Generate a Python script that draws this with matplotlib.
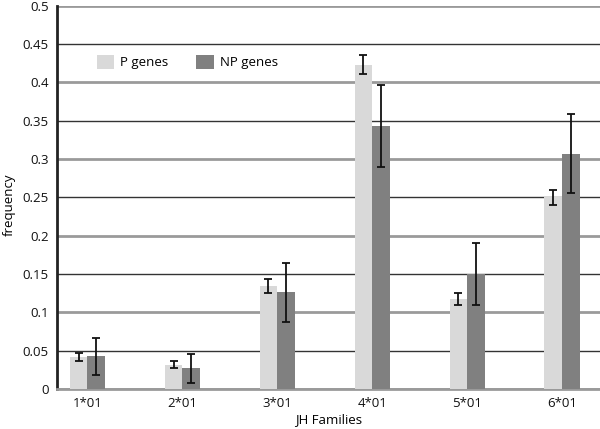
import matplotlib
matplotlib.use("Agg")
import matplotlib.pyplot as plt
import numpy as np

plt.rcParams["font.family"] = ["Open Sans", "DejaVu Sans"]

families = ["1*01", "2*01", "3*01", "4*01", "5*01", "6*01"]
p_genes = [0.042, 0.032, 0.134, 0.423, 0.117, 0.250]
p_err = [0.005, 0.004, 0.009, 0.012, 0.008, 0.010]
np_genes = [0.043, 0.027, 0.126, 0.343, 0.150, 0.307]
np_err = [0.024, 0.019, 0.038, 0.053, 0.040, 0.051]

fig = plt.figure(figsize=(6, 4.29), dpi=100)
ax = fig.add_axes([0.095, 0.093, 0.905, 0.894])

x = np.arange(len(families))
w = 0.185
err_kw = dict(ecolor="#111111", elinewidth=1.3, capsize=3, capthick=1.3)
ax.bar(x - w / 2, p_genes, w, yerr=p_err, color="#d9d9d9", label="P genes", error_kw=err_kw, zorder=3)
ax.bar(x + w / 2, np_genes, w, yerr=np_err, color="#808080", label="NP genes", error_kw=err_kw, zorder=3)

ax.set_xlim(-0.32, 5.4)
ax.set_ylim(0, 0.5)
ax.set_yticks(np.arange(0, 0.501, 0.05))
ax.set_yticklabels(["0", "0.05", "0.1", "0.15", "0.2", "0.25", "0.3", "0.35", "0.4", "0.45", "0.5"])
ax.set_xticks(x)
ax.set_xticklabels(families)
ax.tick_params(length=0, labelsize=9.5, colors="#111111")
ax.tick_params(axis="x", pad=6)
ax.tick_params(axis="y", pad=6)

ax.grid(axis="y", zorder=0)
for i, line in enumerate(ax.yaxis.get_gridlines()):
    if i % 2 == 0:
        line.set_color("#9a9a9a")
        line.set_linewidth(2)
    else:
        line.set_color("#333333")
        line.set_linewidth(1)
ax.set_axisbelow(True)

for s in ["top", "right"]:
    ax.spines[s].set_visible(False)
ax.spines["left"].set_color("#222222")
ax.spines["left"].set_linewidth(2)
ax.spines["bottom"].set_color("#9a9a9a")
ax.spines["bottom"].set_linewidth(2)

ax.set_xlabel("JH Families", fontsize=9.5, labelpad=2)
ax.set_ylabel("frequency", fontsize=9.5, va="center")
ax.yaxis.set_label_coords(-0.088, 0.48)

ax.legend(loc="center left", bbox_to_anchor=(0.073, 0.853), ncol=2, frameon=False,
          fontsize=9.5, handlelength=1.3, handleheight=1.3, columnspacing=2.1,
          handletextpad=0.5, borderaxespad=0, borderpad=0)

fig.savefig("out.png", dpi=100)
